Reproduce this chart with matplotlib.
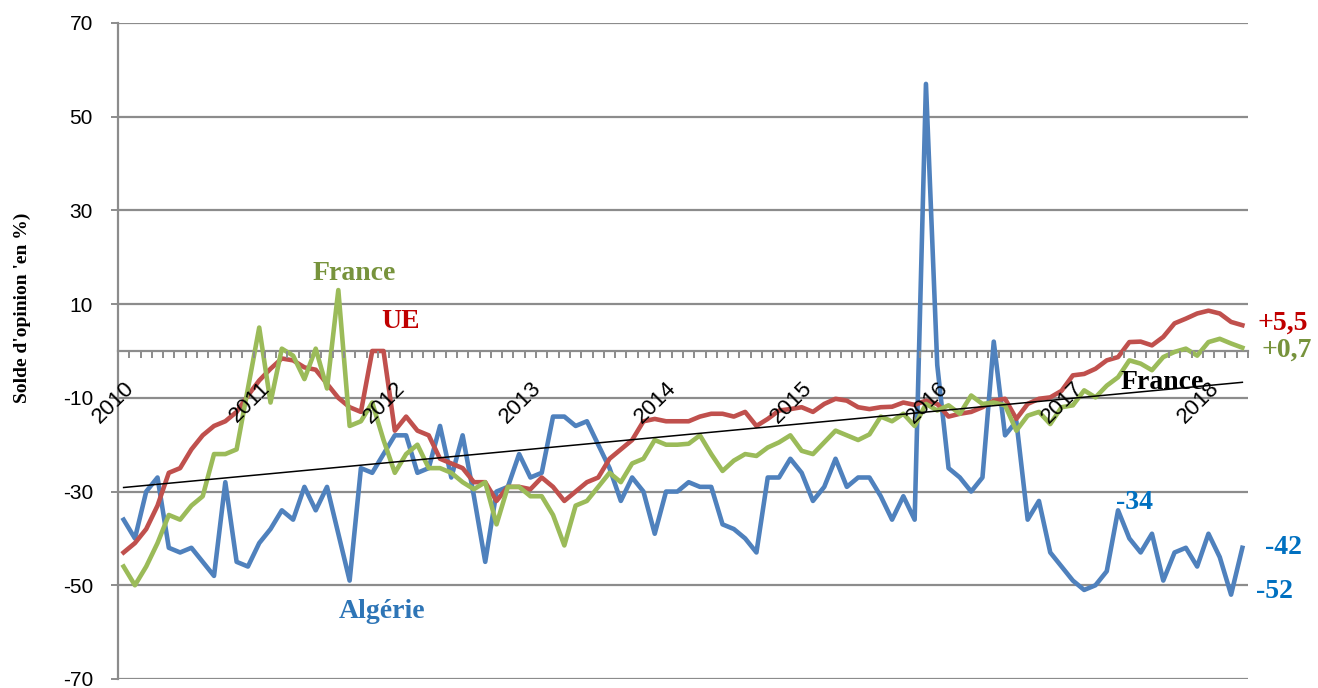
import numpy as np
import matplotlib.pyplot as plt
from matplotlib.ticker import FixedLocator

OUTPUT_PNG = "out.png"

# Mois de janvier 2010 a avril 2018, une valeur par mois
annees = ["2010", "2011", "2012", "2013", "2014", "2015", "2016", "2017", "2018"]

algerie = [
    -36, -40, -30, -27, -42, -43, -42, -45, -48, -28, -45, -46,
    -41, -38, -34, -36, -29, -34, -29, -39, -49, -25, -26, -22,
    -18, -18, -26, -25, -16, -27, -18, -31, -45, -30, -29, -22,
    -27, -26, -14, -14, -16, -15, -20, -25, -32, -27, -30, -39,
    -30, -30, -28, -29, -29, -37, -38, -40, -43, -27, -27, -23,
    -26, -32, -29, -23, -29, -27, -27, -31, -36, -31, -36, 57,
    -3, -25, -27, -30, -27, 2, -18, -15, -36, -32, -43, -46,
    -49, -51, -50, -47, -34, -40, -43, -39, -49, -43, -42, -46,
    -39, -44, -52, -42,
]

ue = [
    -43, -41, -38, -33, -26, -25, -21, -18, -16, -15, -13, -9.5,
    -6.3, -3.8, -1.6, -2, -3.5, -4, -7, -10, -12, -13, 0, 0,
    -17, -14, -17, -18, -23, -24, -25, -28, -28, -32, -29, -29,
    -29.5, -27, -29, -32, -30, -28, -27, -23, -21, -19, -15, -14.5,
    -15, -15, -15, -14, -13.4, -13.4, -14, -13, -16, -14.5, -12.7, -12.4,
    -12, -13, -11.3, -10.2, -10.6, -12, -12.4, -12, -11.9, -11, -11.5, -10.6,
    -11.3, -14, -13.4, -13, -12, -10.6, -10.2, -14.5, -11.3, -10.2, -9.9, -8.5,
    -5.2, -4.9, -3.8, -2, -1.3, 1.9, 2, 1.2, 3, 5.9, 6.9, 8,
    8.6, 8, 6.2, 5.5,
]

france = [
    -46, -50, -46, -41, -35, -36, -33, -31, -22, -22, -21, -8,
    5, -11, 0.5, -1, -6, 0.5, -8, 13, -16, -15, -11, -19,
    -26, -22, -20, -25, -25, -26, -28, -29.5, -28, -37, -29, -29,
    -31, -31, -35, -41.5, -33, -32, -29, -26, -28, -24, -23, -19,
    -20, -20, -19.8, -18, -22, -25.6, -23.4, -22, -22.4, -20.6, -19.5, -18,
    -21.3, -22, -19.5, -17, -18, -19, -17.8, -14, -15, -13.4, -16, -11.3,
    -12.7, -11.6, -13.4, -9.5, -11.3, -11, -11.6, -17, -13.8, -13, -15.6, -12,
    -11.6, -8.4, -9.9, -7.4, -5.6, -2, -2.7, -4.1, -1.3, -0.2, 0.5, -1,
    1.9, 2.6, 1.6, 0.7,
]

GRIS = "#8c8c8c"
SERIF = "Liberation Serif"
SANS = "Liberation Sans"

# tiret simple comme dans Excel, pas le signe moins unicode
plt.rcParams["axes.unicode_minus"] = False


def preparer_axes(fig):
    ax = fig.add_axes([0.0895, 0.0131, 0.8574, 0.9535])
    ax.set_xlim(-0.5, len(france) - 0.5)
    ax.set_ylim(-70, 70)

    # axe des categories qui coupe l'axe vertical en 0
    for cote in ["top", "right"]:
        ax.spines[cote].set_visible(False)
    ax.spines["bottom"].set_position(("data", 0))
    ax.spines["bottom"].set_color(GRIS)
    ax.spines["bottom"].set_linewidth(1.6)
    ax.spines["left"].set_color(GRIS)
    ax.spines["left"].set_linewidth(1.6)

    ax.set_yticks(np.arange(-70, 71, 20))
    ax.tick_params(axis="y", direction="out", length=5, width=1.4, color=GRIS,
                   pad=13, labelsize=15)
    for lab in ax.get_yticklabels():
        lab.set_fontfamily(SANS)
    ax.yaxis.grid(True, color=GRIS, linewidth=1.6)
    ax.set_axisbelow(True)

    # graduations mensuelles et annees en etiquettes
    ax.xaxis.set_minor_locator(FixedLocator(np.arange(len(france) + 1) - 0.5))
    ax.set_xticks([12 * k for k in range(len(annees))])
    ax.set_xticklabels(annees, rotation=45, ha="right", va="top",
                       rotation_mode="anchor", fontfamily=SANS, fontsize=16)
    ax.tick_params(axis="x", which="major", length=0, pad=19)
    ax.tick_params(axis="x", which="minor", direction="out", length=5,
                   width=1.4, color=GRIS)
    # les annees passent au-dessus des courbes, comme dans l'original
    ax.xaxis.set_zorder(6.5)
    return ax


def tracer_series(ax):
    x = np.arange(len(france))
    ax.plot(x, algerie, color="#4F81BD", linewidth=3.3, zorder=3)
    ax.plot(x, ue, color="#C0504D", linewidth=3.3, zorder=4)
    ax.plot(x, france, color="#9BBB59", linewidth=3.3, zorder=5)

    # tendance lineaire France
    a, b = np.polyfit(x, france, 1)
    ax.plot(x, a * x + b, color="black", linewidth=1.1, zorder=6)


def ajouter_textes(ax):
    style = dict(fontfamily=SERIF, fontweight="bold", fontsize=20,
                 va="center", zorder=7)
    ax.text(20.4, 16.6, "France", color="#77933C", ha="center", **style)
    ax.text(24.5, 6.2, "UE", color="#C00000", ha="center", **style)
    ax.text(22.9, -55.7, "Algérie", color="#2E75B6", ha="center", **style)
    ax.text(91.9, -6.8, "France", color="black", ha="center", **style)

    ax.text(100.3, 6.0, "+5,5", color="#C00000", ha="left", **style)
    ax.text(100.7, 0.2, "+0,7", color="#77933C", ha="left", **style)
    ax.text(87.8, -32.4, "-34", color="#0070C0", ha="left", **style)
    ax.text(101.0, -42, "-42", color="#0070C0", ha="left", **style)
    ax.text(100.2, -51.4, "-52", color="#0070C0", ha="left", **style)


def main():
    fig = plt.figure(figsize=(13.18, 6.88), dpi=100)
    ax = preparer_axes(fig)
    tracer_series(ax)
    ajouter_textes(ax)
    fig.text(0.0167, 0.552, "Solde d'opinion 'en %)", rotation=90,
             ha="center", va="center", fontfamily=SERIF, fontweight="bold",
             fontsize=14)
    fig.savefig(OUTPUT_PNG, dpi=100)
    plt.close(fig)


if __name__ == "__main__":
    main()
